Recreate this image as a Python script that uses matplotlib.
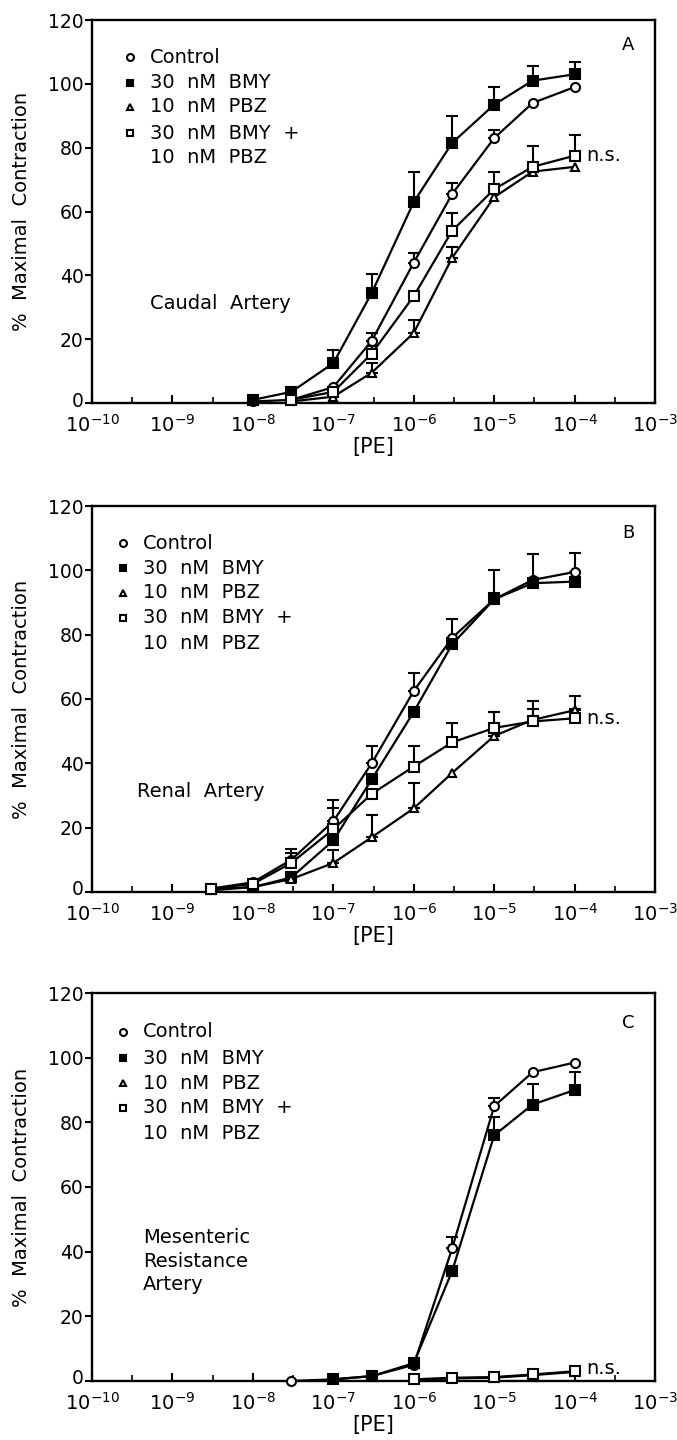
import matplotlib
matplotlib.use("Agg")
import matplotlib.pyplot as plt
import matplotlib.ticker as mticker
import matplotlib.transforms as mtransforms
import numpy as np

plt.rcParams['font.family'] = ['DejaVu Sans']
plt.rcParams['mathtext.fontset'] = 'dejavusans'

labels = ["Control", "30  nM  BMY", "10  nM  PBZ", "30  nM  BMY  +"]
label2 = "10  nM  PBZ"
titles = ["Caudal  Artery", "Renal  Artery", "Mesenteric\nResistance\nArtery"]
letters = ["A", "B", "C"]

# ---- panel A (caudal) ----
a_ctrl_x = [1e-8, 3e-8, 1e-7, 3e-7, 1e-6, 3e-6, 1e-5, 3e-5, 1e-4]
a_ctrl_y = [0.5, 1, 5, 19.5, 44, 65.5, 83, 94, 99]
a_ctrl_e = [0, 0, 0, 2.5, 3, 3.5, 2.6, 0, 0]
a_bmy_x = [1e-8, 3e-8, 1e-7, 3e-7, 1e-6, 3e-6, 1e-5, 3e-5, 1e-4]
a_bmy_y = [1, 3.5, 12.5, 34.5, 63, 81.5, 93.5, 101, 103]
a_bmy_e = [0, 0, 4, 6, 9.5, 8.5, 5.5, 4.5, 4]
a_pbz_x = [3e-8, 1e-7, 3e-7, 1e-6, 3e-6, 1e-5, 3e-5, 1e-4]
a_pbz_y = [0.5, 2, 9.5, 22, 45.5, 64.5, 72.5, 74]
a_pbz_e = [0, 0, 3, 4, 3.5, 0, 0, 0]
a_comb_x = [3e-8, 1e-7, 3e-7, 1e-6, 3e-6, 1e-5, 3e-5, 1e-4]
a_comb_y = [1, 3.5, 15.5, 33.5, 54, 67, 74, 77.5]
a_comb_e = [0, 0, 2.5, 0, 5.5, 5.5, 6.5, 6.5]

# ---- panel B (renal) ----
b_x = [3e-9, 1e-8, 3e-8, 1e-7, 3e-7, 1e-6, 3e-6, 1e-5, 3e-5, 1e-4]
b_ctrl_y = [1, 3, 10, 22, 40, 62.5, 79, 91, 97, 99.5]
b_ctrl_e = [0, 0, 3.5, 6.5, 5.5, 5.5, 6, 9, 8, 6]
b_bmy_y = [1, 1.5, 4.5, 16, 35, 56, 77, 91, 96, 96.5]
b_bmy_e = [0, 0, 0, 0, 0, 0, 0, 2, 0, 0]
b_pbz_y = [0.5, 1.5, 4, 9, 17, 26, 37, 48.5, 53.5, 56.5]
b_pbz_e = [0, 0, 0, 4, 7, 8, 0, 7.5, 6, 4.5]
b_comb_y = [1, 2.5, 9, 19.5, 30.5, 39, 46.5, 51, 53, 54]
b_comb_e = [0, 0, 3, 6.5, 0, 6.5, 6, 5, 4, 3]

# ---- panel C (mesenteric resistance) ----
c_ctrl_x = [3e-8, 1e-7, 3e-7, 1e-6, 3e-6, 1e-5, 3e-5, 1e-4]
c_ctrl_y = [0, 0.5, 1.5, 5, 41, 85, 95.5, 98.5]
c_ctrl_e = [0, 0, 0, 0, 3.5, 2.5, 0, 0]
c_bmy_x = [1e-7, 3e-7, 1e-6, 3e-6, 1e-5, 3e-5, 1e-4]
c_bmy_y = [0.5, 1.5, 5.5, 34, 76, 85.5, 90]
c_bmy_e = [0, 0, 0, 0, 5.5, 6.5, 5.5]
c_pbz_x = [1e-6, 3e-6, 1e-5, 3e-5, 1e-4]
c_pbz_y = [0.3, 0.8, 1, 1.8, 2.8]
c_pbz_e = [0, 0, 0, 0, 0]
c_comb_x = [1e-6, 3e-6, 1e-5, 3e-5, 1e-4]
c_comb_y = [0.5, 1, 1.2, 2, 3]
c_comb_e = [0, 0, 0, 0, 0]

panels = [
    [(a_ctrl_x, a_ctrl_y, a_ctrl_e), (a_bmy_x, a_bmy_y, a_bmy_e),
     (a_pbz_x, a_pbz_y, a_pbz_e), (a_comb_x, a_comb_y, a_comb_e)],
    [(b_x, b_ctrl_y, b_ctrl_e), (b_x, b_bmy_y, b_bmy_e),
     (b_x, b_pbz_y, b_pbz_e), (b_x, b_comb_y, b_comb_e)],
    [(c_ctrl_x, c_ctrl_y, c_ctrl_e), (c_bmy_x, c_bmy_y, c_bmy_e),
     (c_pbz_x, c_pbz_y, c_pbz_e), (c_comb_x, c_comb_y, c_comb_e)],
]

styles = [
    dict(marker='o', mfc='white', ms=6.5),
    dict(marker='s', mfc='black', ms=6.5),
    dict(marker='^', mfc='white', ms=6),
    dict(marker='s', mfc='white', ms=6.5),
]

# axes rectangles in figure fraction
rects = [
    [0.136, 0.7201, 0.8316, 0.266],
    [0.136, 0.3806, 0.8316, 0.268],
    [0.136, 0.0410, 0.8316, 0.2694],
]
leg_x = [0.0675, 0.055, 0.055]
leg_y = [[0.903, 0.836, 0.773, 0.705, 0.640],
         [0.904, 0.839, 0.775, 0.710, 0.645],
         [0.900, 0.832, 0.768, 0.704, 0.639]]
title_pos = [(0.103, 0.261), (0.080, 0.259), (0.090, 0.309)]
letter_y = [0.935, 0.930, 0.923]

fig = plt.figure(figsize=(6.77, 14.4), dpi=100)
fs = 14

for i, series in enumerate(panels):
    ax = fig.add_axes(rects[i])
    ax.set_xscale('log')
    ax.set_xlim(1e-10, 1e-3)
    ax.set_ylim(0, 120)

    for (x, y, e), st in zip(series, styles):
        x = np.array(x); y = np.array(y); e = np.array(e, dtype=float)
        m = e > 0
        if m.any():
            ax.errorbar(x[m], y[m], yerr=[np.zeros(m.sum()), e[m]], fmt='none',
                        ecolor='black', elinewidth=1.5, capsize=4,
                        capthick=1.5, zorder=2)
        ax.plot(x, y, color='black', lw=1.6, mec='black', mew=1.5,
                zorder=3, clip_on=False, **st)

    # n.s. next to combination curve
    cx, cy, _ = series[3]
    ax.text(cx[-1] * 1.4, cy[-1] + (0 if i < 2 else 1), "n.s.", fontsize=fs,
            va='center', ha='left')

    # legend drawn by hand
    for j, st in enumerate(styles):
        ax.plot([leg_x[i]], [leg_y[i][j]], transform=ax.transAxes,
                ls='none', marker=st['marker'], mfc=st['mfc'], mec='black',
                mew=1.5, ms=st['ms'] - 1.5)
        ax.text(leg_x[i] + 0.036, leg_y[i][j], labels[j], transform=ax.transAxes,
                fontsize=fs, va='center', ha='left')
    ax.text(leg_x[i] + 0.036, leg_y[i][4], label2, transform=ax.transAxes,
            fontsize=fs, va='center', ha='left')

    ax.text(title_pos[i][0], title_pos[i][1], titles[i], transform=ax.transAxes,
            fontsize=fs, va='center', ha='left', linespacing=1.3)
    ax.text(0.952, letter_y[i], letters[i], transform=ax.transAxes,
            fontsize=fs - 1, va='center', ha='center')

    # ticks
    ax.xaxis.set_major_locator(mticker.FixedLocator([10.0 ** k for k in range(-10, -2)]))
    ax.xaxis.set_major_formatter(mticker.FuncFormatter(
        lambda v, p: r"$10^{%d}$" % int(round(np.log10(v)))))
    ax.xaxis.set_minor_locator(mticker.FixedLocator([10.0 ** (k + 0.5) for k in range(-10, -3)]))
    ax.xaxis.set_minor_formatter(mticker.NullFormatter())
    ax.tick_params(axis='x', which='major', direction='in', length=6, width=1.5,
                   labelsize=14, pad=8, top=False)
    ax.tick_params(axis='x', which='minor', direction='in', length=4, width=1.2,
                   top=False)
    ax.set_yticks([0, 20, 40, 60, 80, 100, 120])
    ax.tick_params(axis='y', which='major', direction='out', length=5, width=1.5,
                   labelsize=13.5, pad=1, right=False)
    # lift the "0" a little so it clears the 10^-10 label
    zero = ax.get_yticklabels()[0]
    zero.set_transform(zero.get_transform() +
                       mtransforms.ScaledTranslation(0, 4 / 100, fig.dpi_scale_trans))

    for sp in ax.spines.values():
        sp.set_linewidth(1.7)

    ax.set_ylabel("%  Maximal  Contraction", fontsize=fs)
    ax.yaxis.set_label_coords(-0.108, 0.5)
    ax.set_xlabel("[PE]", fontsize=15)
    ax.xaxis.set_label_coords(0.5, -0.088)

fig.savefig("out.png", dpi=100)
